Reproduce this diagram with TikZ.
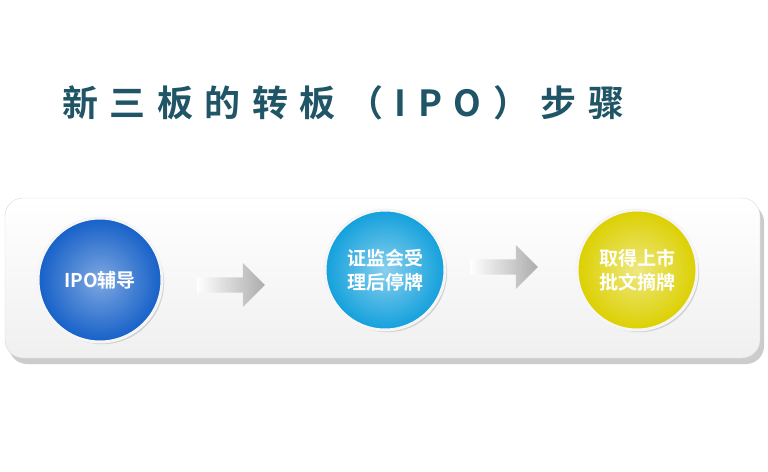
\documentclass[tikz,border=0pt]{standalone}
\usepackage{fontspec}
\newfontfamily\cjkb{Noto Sans CJK SC Bold}
\newfontfamily\cjkt[LetterSpace=32]{Noto Sans CJK SC Bold}
\usetikzlibrary{shadings,shadows,shapes.arrows}
\definecolor{titlec}{HTML}{1F5566}
\definecolor{bluec}{HTML}{1560C8}
\definecolor{cyanc}{HTML}{12A0DC}
\definecolor{yelc}{HTML}{DCD000}
\tikzset{
 ball/.style={circle,minimum size=#1,draw=white!92!gray,line width=3pt,text=white,font=\cjkb\fontsize{19}{24}\selectfont,align=center,drop shadow={opacity=0.3}},
 arr/.style={single arrow,minimum height=68pt,minimum width=44pt,single arrow head extend=8pt,single arrow tip angle=90,left color=white,right color=gray!65,draw=none,shape border rotate=0,inner sep=4pt}
}
\begin{document}
\begin{tikzpicture}[x=1pt,y=-1pt]
\useasboundingbox (0,0) rectangle (768,471);
\fill[white] (0,0) rectangle (768,471);
\node[font=\cjkt\fontsize{36}{40}\selectfont,text=titlec,anchor=west,inner sep=0] (title) at (62,103) {新三板的转板（IPO）步骤};
\fill[gray!40,rounded corners=18pt] (9,204) rectangle (764,364);
\shade[top color=white,bottom color=gray!12,rounded corners=18pt,draw=gray!30] (5,198) rectangle (760,358);
\node[ball=124pt,inner color=bluec!55!white,outer color=bluec] (a) at (100,280) {IPO辅导};
\node[ball=120pt,inner color=cyanc!50!white,outer color=cyanc] (b) at (385,270) {证监会受\\理后停牌};
\node[ball=120pt,inner color=yelc!50!white,outer color=yelc] (c) at (637,270) {取得上市\\批文摘牌};
\node[arr] (ar1) at (227,285) {};
\node[arr] (ar2) at (500,267) {};
\end{tikzpicture}
\end{document}
